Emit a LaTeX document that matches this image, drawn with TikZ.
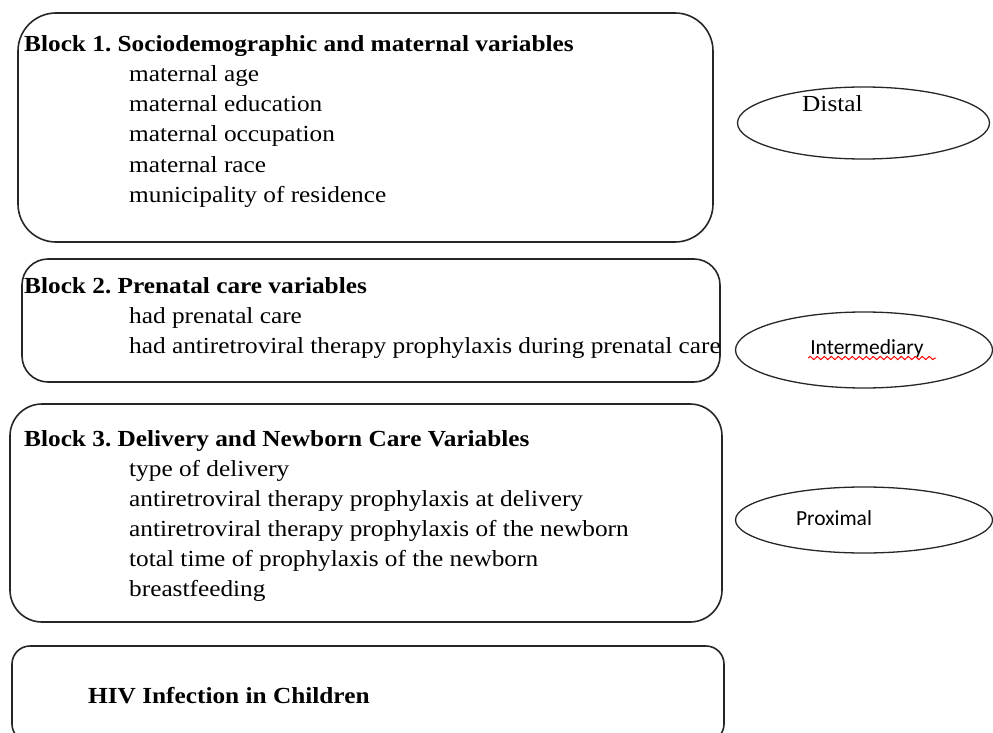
\documentclass[tikz,border=0pt]{standalone}
\usepackage{fontspec}
\setmainfont[FakeStretch=1.1]{Liberation Serif}
\newfontfamily\calibri{Carlito}
\usetikzlibrary{positioning,shapes.geometric,decorations.pathmorphing}
\frenchspacing
\tikzset{
  blockbox/.style = {draw=black!85, line width=1.6pt, rounded corners=#1, inner sep=0pt},
  levelnode/.style = {ellipse, draw=black!85, line width=1.3pt, inner sep=0pt},
  headtext/.style = {anchor=base west, inner sep=0pt, font=\fontsize{23}{27}\selectfont\bfseries},
  itemtext/.style = {anchor=base west, inner sep=0pt, font=\fontsize{23}{27}\selectfont},
  sanstext/.style = {anchor=base, inner sep=0pt, font=\fontsize{21.5}{25}\calibri}
}

\begin{document}
\begin{tikzpicture}[x=1pt,y=-1pt]
  \useasboundingbox (0,0) rectangle (993,733);
  % blocks
  \node [blockbox=38pt, minimum width=695pt, minimum height=229pt] (b1) at (365.5,127.5) {};
  \node [blockbox=26pt, minimum width=698pt, minimum height=123pt] (b2) at (371,320.5) {};
  \node [blockbox=32pt, minimum width=712pt, minimum height=218pt] (b3) at (366,513) {};
  \node [blockbox=18pt, minimum width=712pt, minimum height=96pt] (b4) at (368,694) {};
  % block 1
  \node [headtext] (h1) at (24,52) {Block 1. Sociodemographic and maternal variables};
  \node [itemtext] (age) at (129,82) {maternal age};
  \node [itemtext] (edu) at (129,112) {maternal education};
  \node [itemtext] (occ) at (129,142) {maternal occupation};
  \node [itemtext] (race) at (129,172) {maternal race};
  \node [itemtext] (mun) at (129,202) {municipality of residence};
  % block 2
  \node [headtext] (h2) at (24,293) {Block 2. Prenatal care variables};
  \node [itemtext] (pnc) at (129,323) {had prenatal care};
  \node [itemtext] (artp) at (129,353) {had antiretroviral therapy prophylaxis during prenatal care};
  % block 3
  \node [headtext] (h3) at (24,446) {Block 3. Delivery and Newborn Care Variables};
  \node [itemtext] (tod) at (129,476) {type of delivery};
  \node [itemtext] (artd) at (129,506) {antiretroviral therapy prophylaxis at delivery};
  \node [itemtext] (artn) at (129,536) {antiretroviral therapy prophylaxis of the newborn};
  \node [itemtext] (ttp) at (129,566) {total time of prophylaxis of the newborn};
  \node [itemtext] (bf) at (129,596) {breastfeeding};
  % outcome
  \node [headtext] (hiv) at (88,703) {HIV Infection in Children};
  % levels
  \node [levelnode, minimum width=252pt, minimum height=72pt] (distal) at (863.5,123) {};
  \node [itemtext] (dtxt) at (802,112) {Distal};
  \node [levelnode, minimum width=257pt, minimum height=76pt] (inter) at (864,350) {};
  \node [sanstext] (itxt) at (867,354) {Intermediary};
  \draw [red, line width=1pt, decorate, decoration={snake, amplitude=1.6pt, segment length=7pt}]
    (itxt.base west) ++(-2,4) -- ++(128,0);
  \node [levelnode, minimum width=257pt, minimum height=66pt] (prox) at (864,520) {};
  \node [sanstext] (ptxt) at (834,525) {Proximal};
\end{tikzpicture}
\end{document}
